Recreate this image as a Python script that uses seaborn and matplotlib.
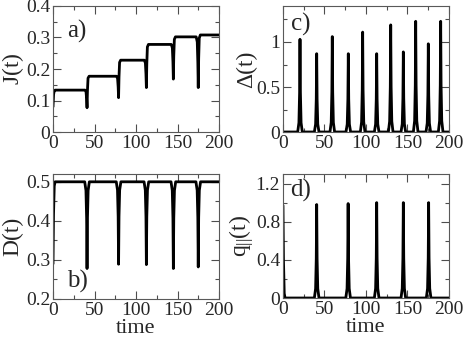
import numpy as np
import pandas as pd
import matplotlib
matplotlib.use("Agg")
import matplotlib.pyplot as plt
from matplotlib.ticker import MultipleLocator, FuncFormatter
import seaborn as sns

# panel a: J(t) plateaus and dip minima
j_start = 0.08
j_levels = [0.133, 0.177, 0.228, 0.278, 0.302, 0.308]
j_dip_times = [41.0, 79.0, 112.5, 145.0, 175.0]
j_dip_mins = [0.077, 0.109, 0.141, 0.168, 0.141]

# panel b: D(t)
d_start = 0.29
d_level = 0.5
d_dip_times = [41.0, 79.0, 112.5, 145.0, 175.0]
d_dip_mins = [0.278, 0.289, 0.288, 0.278, 0.282]

# panel c: Delta(t) spikes
delta_peak_times = [20.5, 40.6, 59.4, 78.7, 96.0, 112.9, 129.8, 145.0, 159.9, 175.1, 190.0]
delta_peak_vals = [1.03, 0.87, 1.06, 0.87, 1.11, 0.87, 1.19, 0.89, 1.23, 0.98, 1.23]

# panel d: q_par(t) spikes
q_start = 0.97
q_peak_times = [40.6, 78.5, 112.9, 145.0, 175.5]
q_peak_vals = [0.98, 0.99, 1.0, 1.0, 1.0]

# spike outline (time offset, fraction of height)
spike_dt = [-2.8, -1.3, -0.5, 0.0, 0.5, 1.3, 2.8]
spike_frac = [0.0, 0.1, 0.42, 1.0, 0.42, 0.1, 0.0]


def spike_curve(times, vals, base, start=None):
    t, y = [0.0], [base if start is None else start]
    if start is not None:
        t += [0.6, 1.5, 2.5]
        y += [base + 0.4 * (start - base), base + 0.05 * (start - base), base]
    for tp, h in zip(times, vals):
        for dt, f in zip(spike_dt, spike_frac):
            t.append(tp + dt)
            y.append(base + f * (h - base))
    t.append(200.0)
    y.append(base)
    return pd.DataFrame({"time": t, "val": y})


def step_curve():
    t = [0.0, 0.7, 1.5, 2.5]
    y = [j_start, 0.12, 0.13, j_levels[0]]
    for i, (t0, m) in enumerate(zip(j_dip_times, j_dip_mins)):
        lp, ln = j_levels[i], j_levels[i + 1]
        t += [t0 - 2.5, t0 - 1.2, t0 - 0.5, t0, t0 + 0.5, t0 + 1.2, t0 + 2.5]
        y += [lp, lp - 0.1 * (lp - m), lp - 0.5 * (lp - m), m,
              m + 0.55 * (ln - m), ln - 0.06 * (ln - m), ln]
    t.append(200.0)
    y.append(j_levels[-1])
    return pd.DataFrame({"time": t, "val": y})


sns.set_style("ticks")
plt.rcParams["font.family"] = ["Liberation Serif", "DejaVu Serif"]
plt.rcParams["mathtext.fontset"] = "custom"
plt.rcParams["mathtext.rm"] = "Liberation Serif"
plt.rcParams["mathtext.it"] = "Liberation Serif"

fig = plt.figure(figsize=(4.63, 3.37), dpi=100)
ax_a = fig.add_axes([0.1145, 0.6083, 0.3585, 0.3739])
ax_c = fig.add_axes([0.6112, 0.6083, 0.3585, 0.3739])
ax_b = fig.add_axes([0.1145, 0.1128, 0.3585, 0.3709])
ax_d = fig.add_axes([0.6112, 0.1157, 0.3585, 0.3680])

curves = [
    (ax_a, step_curve()),
    (ax_b, spike_curve(d_dip_times, d_dip_mins, d_level, d_start)),
    (ax_c, spike_curve(delta_peak_times, delta_peak_vals, 0.0)),
    (ax_d, spike_curve(q_peak_times, q_peak_vals, 0.0, q_start)),
]
for ax, df in curves:
    sns.lineplot(data=df, x="time", y="val", ax=ax, color="black", lw=2.0,
                 sort=False, estimator=None)

fmt = FuncFormatter(lambda v, p: "%g" % round(v, 3))
settings = [
    (ax_a, (0, 0.4), 0.1, 0.05, r"$\bar{J}(t)$", -0.155, "a)", (17, 0.32)),
    (ax_b, (0.2, 0.52), 0.1, 0.05, "D(t)", -0.18, "b)", (17, 0.245)),
    (ax_c, (0, 1.4), 0.5, 0.25, "Δ(t)", -0.155, "c)", (10, 1.2)),
    (ax_d, (0, 1.3), 0.4, 0.2, r"$q_{||}(t)$", -0.165, "d)", (8, 1.13)),
]
for ax, ylim, ymaj, ymin, ylab, lx, tag, pos in settings:
    ax.set_xlim(0, 200)
    ax.set_ylim(*ylim)
    ax.xaxis.set_major_locator(MultipleLocator(50))
    ax.xaxis.set_minor_locator(MultipleLocator(25))
    ax.yaxis.set_major_locator(MultipleLocator(ymaj))
    ax.yaxis.set_minor_locator(MultipleLocator(ymin))
    ax.yaxis.set_major_formatter(fmt)
    ax.tick_params(which="both", direction="in", top=True, right=True,
                   color="0.3", width=0.8, labelsize=14, pad=2)
    ax.tick_params(which="major", length=6)
    ax.tick_params(which="minor", length=3)
    for s in ax.spines.values():
        s.set_color("0.35")
        s.set_linewidth(0.8)
    ax.set_ylabel(ylab, fontsize=17)
    ax.yaxis.set_label_coords(lx, 0.5)
    ax.set_xlabel("")
    ax.text(pos[0], pos[1], tag, fontsize=18, ha="left", va="center")

for ax in (ax_b, ax_d):
    ax.set_xlabel("time", fontsize=16)
    ax.xaxis.set_label_coords(0.5, -0.16)

fig.savefig("out.png", dpi=100)
